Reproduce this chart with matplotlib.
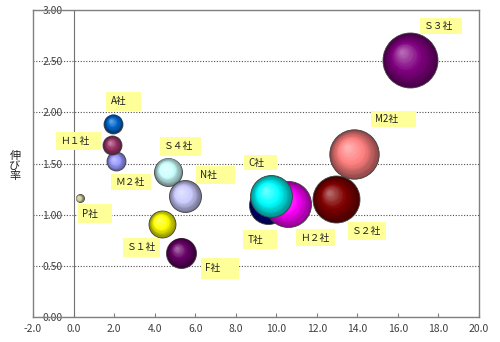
import numpy as np
import matplotlib
matplotlib.use('Agg')
import matplotlib.pyplot as plt
from matplotlib.patches import Rectangle
from matplotlib.transforms import IdentityTransform
from matplotlib.colors import to_rgb

plt.rcParams['font.family'] = ['Noto Sans CJK JP', 'DejaVu Sans']

# ---- data ----
companies = ['P社', 'Ｍ２社', 'Ｈ１社', 'A社', 'Ｓ４社', 'N社', 'Ｓ１社', 'F社',
             'T社', 'Ｈ２社', 'C社', 'Ｓ２社', 'M2社', 'Ｓ３社']
x_vals = [0.3, 2.1, 1.92, 1.97, 4.68, 5.5, 4.38, 5.3,
          9.6, 10.6, 9.75, 12.95, 13.85, 16.6]
y_vals = [1.16, 1.52, 1.68, 1.89, 1.42, 1.18, 0.91, 0.63,
          1.09, 1.10, 1.18, 1.15, 1.59, 2.51]
sizes = [16, 90, 90, 90, 196, 256, 182, 225,
         361, 530, 441, 552, 610, 756]
colors = ['#CCCC99', '#9999FF', '#993366', '#0066CC', '#CCFFFF', '#CCCCFF', '#FFFF00', '#660066',
          '#000080', '#FF00FF', '#00FFFF', '#800000', '#FF8080', '#800080']
x_ticks = [-2, 0, 2, 4, 6, 8, 10, 12, 14, 16, 18, 20]
y_ticks = [0, 0.5, 1.0, 1.5, 2.0, 2.5, 3.0]
y_label = '伸\nび\n率'

# label box style (pixel offsets from bubble centre: dx, top, width, height)
label_boxes = [(-2, -6, 34, 19), (-5, -13, 40, 16), (-56, 13, 45, 18), (-7, 32, 35, 19),
               (-8, 35, 41, 19), (11, 30, 39, 18), (-39, -14, 37, 19), (20, -5, 38, 21),
               (-25, -25, 34, 19), (8, -25, 39, 17), (-27, 41, 33, 15), (12, -23, 38, 18),
               (17, 43, 45, 16), (10, 42, 42, 16)]

W, H = 500, 342
fig = plt.figure(figsize=(W / 100, H / 100), dpi=100)
ax = fig.add_axes([33 / W, 25 / H, 446 / W, 307 / H])
ax.set_xlim(-2, 20)
ax.set_ylim(0, 3)

# frame
for s in ['top', 'right', 'bottom']:
    ax.spines[s].set_color('#808080')
    ax.spines[s].set_linewidth(1.0)
ax.spines['left'].set_position(('data', 0))
ax.spines['left'].set_color('#707070')
ax.axvline(-2, color='#808080', linewidth=1.0, clip_on=False, zorder=3)

ax.set_xticks(x_ticks)
ax.set_xticklabels(['%.1f' % v for v in x_ticks])
ax.set_yticks(y_ticks)
ax.set_yticklabels(['%.2f' % v for v in y_ticks])
ax.tick_params(axis='x', direction='in', length=3, pad=5, color='#808080',
               labelsize=7.5, labelcolor='#404040')
ax.tick_params(axis='y', length=0, pad=8, labelsize=7.5, labelcolor='#404040')
ax.yaxis.grid(True, linestyle=(0, (1, 1.5)), color='#505050', linewidth=0.8)
ax.set_axisbelow(True)

fig.text(15 / W, 1 - 166 / H, y_label, ha='center', va='center', fontsize=8,
         linespacing=1.05, color='#202020')

fig.canvas.draw()
inv = ax.transData.inverted()


def blend(c1, c2, t):
    return tuple(a + (b - a) * t for a, b in zip(c1, c2))


N = 16
for i, (x, y, sz, col) in enumerate(zip(x_vals, y_vals, sizes, colors)):
    r = np.sqrt(sz)
    base = np.array(to_rgb(col))
    dark = tuple(base * 0.55)
    light = tuple(base + (1 - base) * 0.4)
    px, py = ax.transData.transform((x, y))
    z = 5 + i * 0.1
    d = 2 * r * 0.72
    ax.scatter([x], [y], s=d ** 2, color=dark, edgecolors='#404040',
               linewidths=0.6, zorder=z)
    for k in range(1, N):
        t = k / (N - 1)
        rk = r * (1 - 0.9 * t)
        cx, cy = px - 0.28 * r * t, py + 0.28 * r * t
        dx_, dy_ = inv.transform((cx, cy))
        if t < 0.5:
            c = blend(dark, tuple(base), t / 0.5)
        else:
            c = blend(tuple(base), light, (t - 0.5) / 0.5)
        ax.scatter([dx_], [dy_], s=(2 * rk * 0.72) ** 2, color=c,
                   linewidths=0, zorder=z + 0.001 * k)

# labels
for x, y, name, (bdx, btop, bw, bh) in zip(x_vals, y_vals, companies, label_boxes):
    px, py = ax.transData.transform((x, y))
    left = px + bdx
    top = py + btop
    rect = Rectangle((left, top - bh), bw, bh, transform=IdentityTransform(),
                     facecolor='#FFFF99', edgecolor='none', zorder=10, clip_on=False)
    ax.add_artist(rect)
    ax.text(left + 4, top - bh / 2, name, transform=IdentityTransform(),
            ha='left', va='center', fontsize=7, color='#202020', zorder=11)

fig.savefig('out.png', dpi=100)
